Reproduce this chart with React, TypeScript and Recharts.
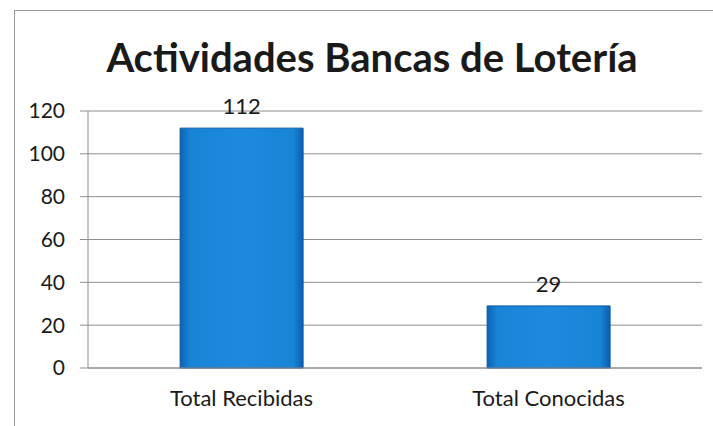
import { BarChart, Bar, XAxis, YAxis, CartesianGrid, LabelList } from "recharts";

const categories = ["Total Recibidas", "Total Conocidas"];
const values = [112, 29];
const yTicks = [0, 20, 40, 60, 80, 100, 120];

const data = categories.map((name, i) => ({ name, value: values[i] }));

const font = "Lato, 'Open Sans', sans-serif";

export default function App() {
  return (
    <div
      style={{
        position: "absolute",
        left: 0,
        top: 0,
        width: 713,
        height: 426,
        background: "#fff",
        overflow: "hidden",
        fontFamily: font,
      }}
    >
      <div
        style={{
          position: "absolute",
          left: 14,
          top: 10,
          width: 720,
          height: 440,
          border: "1px solid #9a9a9a",
        }}
      />
      <div
        style={{
          position: "absolute",
          left: 30,
          width: 684,
          top: 33,
          textAlign: "center",
          fontSize: 40,
          fontWeight: 700,
          color: "#1a1a1a",
          lineHeight: "48px",
        }}
      >
        Actividades Bancas de Lotería
      </div>
      <div style={{ position: "absolute", left: 0, top: 0 }}>
        <BarChart
          width={713}
          height={426}
          data={data}
          margin={{ top: 111, right: 11, bottom: 28, left: 0 }}
          barCategoryGap="30%"
        >
          <defs>
            <linearGradient id="barFill" x1="0" y1="0" x2="1" y2="0">
              <stop offset="0%" stopColor="#0b62b3" />
              <stop offset="8%" stopColor="#1884d6" />
              <stop offset="50%" stopColor="#1d8ade" />
              <stop offset="92%" stopColor="#1884d6" />
              <stop offset="100%" stopColor="#0b5eae" />
            </linearGradient>
          </defs>
          <CartesianGrid vertical={false} stroke="#8e8e8e" />
          <XAxis
            dataKey="name"
            height={30}
            axisLine={{ stroke: "#8e8e8e" }}
            tickLine={false}
            tickSize={0}
            tickMargin={22}
            tick={{ fontSize: 22, fill: "#1a1a1a", fontFamily: font }}
          />
          <YAxis
            width={88}
            domain={[0, 120]}
            ticks={yTicks}
            axisLine={{ stroke: "#8e8e8e" }}
            tickLine={{ stroke: "#8e8e8e" }}
            tickSize={8}
            tickMargin={15}
            tick={{ fontSize: 21, fill: "#1a1a1a", fontFamily: font }}
          />
          <Bar
            dataKey="value"
            fill="url(#barFill)"
            stroke="#0a5aa6"
            strokeWidth={1}
            isAnimationActive={false}
          >
            <LabelList
              dataKey="value"
              position="top"
              offset={14}
              style={{ fontSize: 22, fill: "#1a1a1a", fontFamily: font }}
            />
          </Bar>
        </BarChart>
      </div>
    </div>
  );
}
